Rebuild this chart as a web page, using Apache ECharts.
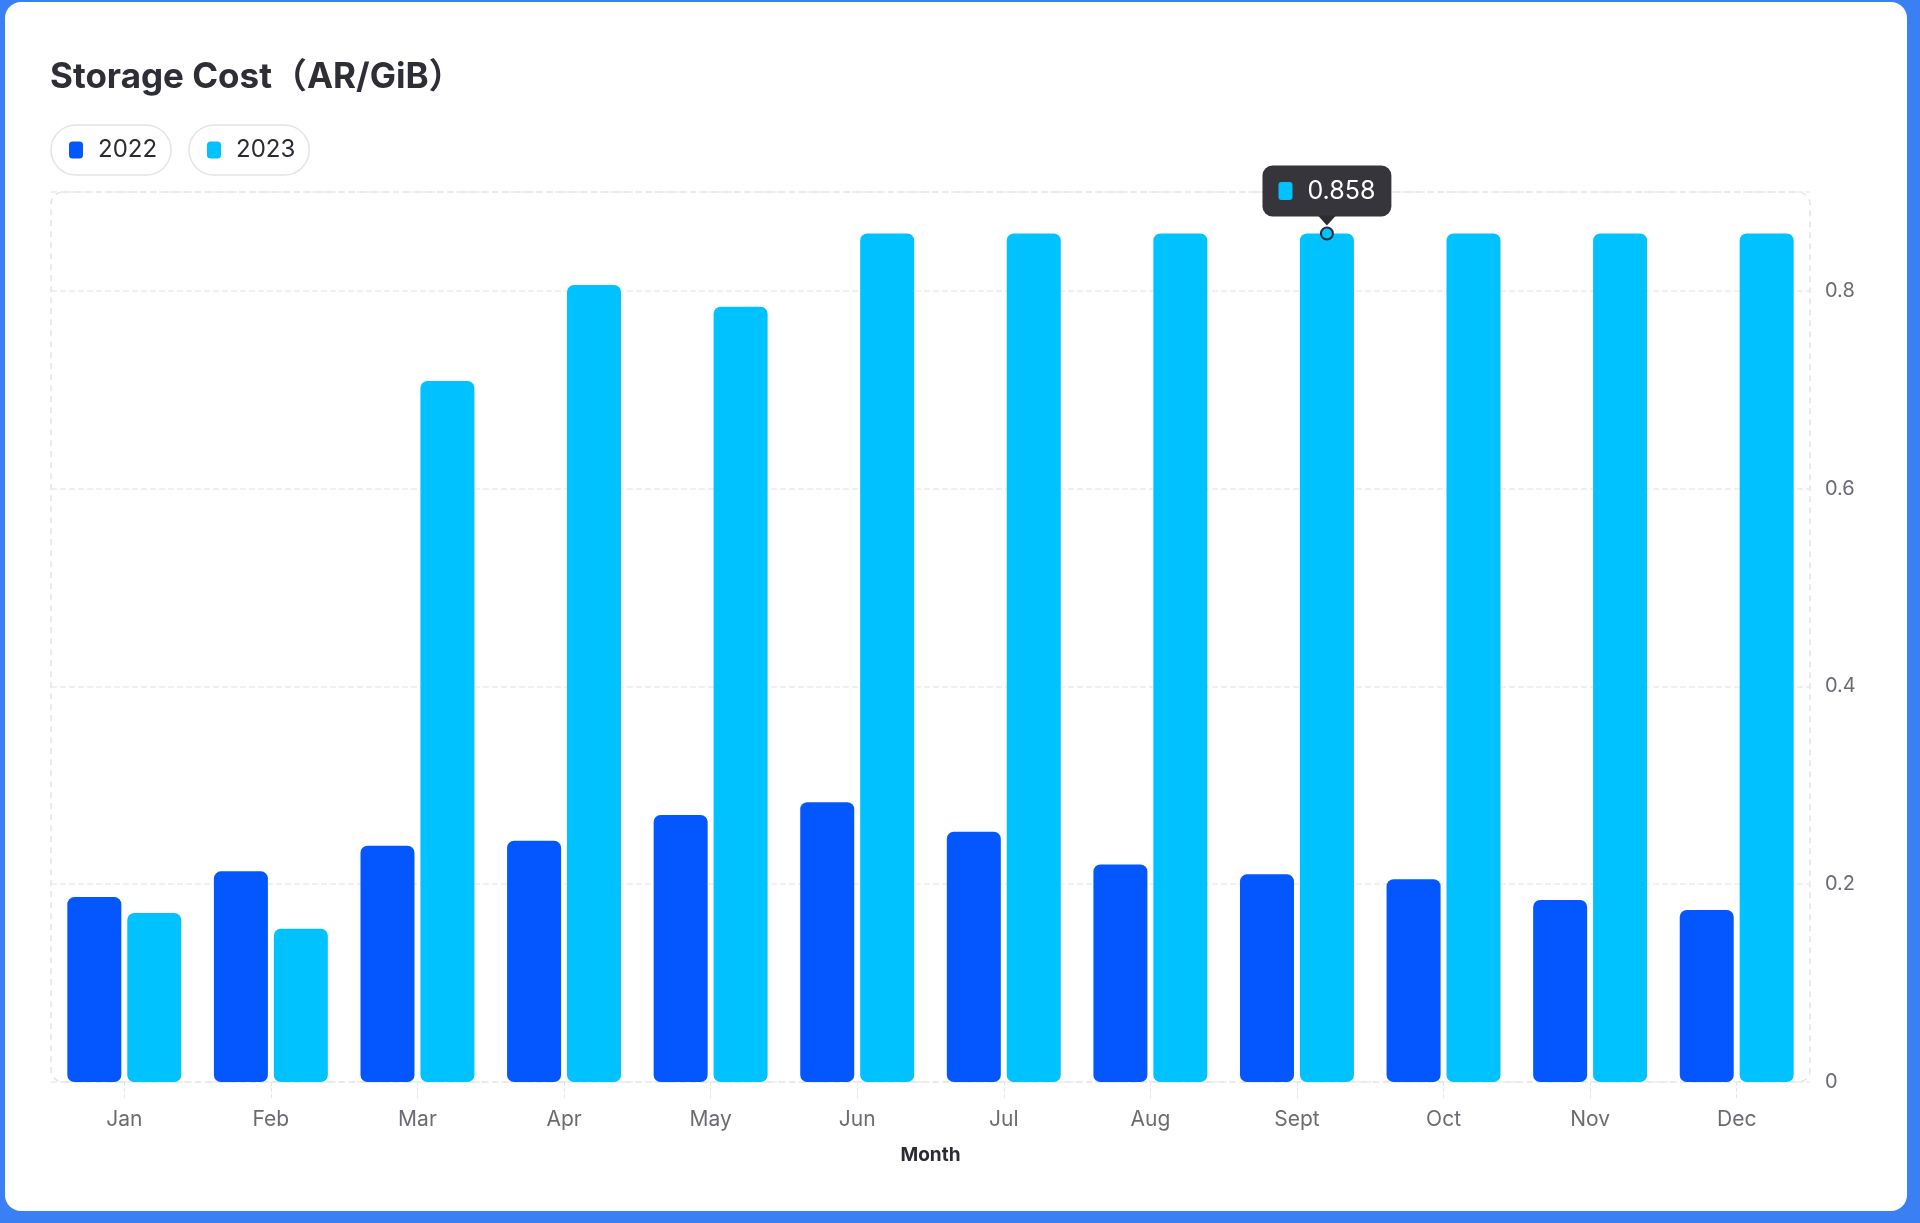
<!DOCTYPE html>
<html>
<head>
<meta charset="utf-8">
<script src="https://cdn.jsdelivr.net/npm/echarts@6/dist/echarts.min.js"></script>
<style>
  html, body { margin: 0; padding: 0; background: #3b7ff5; width: 1920px; height: 1223px; overflow: hidden; }
  #card { position: absolute; left: 5px; top: 2px; width: 1902px; height: 1209px; background: #fff; border-radius: 16px; }
  #chart { position: absolute; left: 0; top: 0; width: 1920px; height: 1223px; }
</style>
</head>
<body>
<div id="card"></div>
<div id="chart"></div>
<script>
const titleText = 'Storage Cost（AR/GiB）';
const months = ['Jan', 'Feb', 'Mar', 'Apr', 'May', 'Jun', 'Jul', 'Aug', 'Sept', 'Oct', 'Nov', 'Dec'];
const seriesNames = ['2022', '2023'];
const values2022 = [0.187, 0.213, 0.239, 0.244, 0.270, 0.283, 0.253, 0.220, 0.210, 0.205, 0.184, 0.174];
const values2023 = [0.171, 0.155, 0.709, 0.806, 0.784, 0.858, 0.858, 0.858, 0.858, 0.858, 0.858, 0.858];
const highlightIndex = 8;
const xAxisName = 'Month';

const FONT = 'Inter, "Noto Sans CJK SC", sans-serif';
const C2022 = '#0457ff';
const C2023 = '#00c2ff';

const chart = echarts.init(document.getElementById('chart'), null, { renderer: 'canvas' });

const grid = { left: 51, top: 192, right: 110, bottom: 141 };

const legendCommon = {
  top: 125,
  padding: [13, 14, 13, 18],
  borderColor: '#e4e4e8',
  borderWidth: 1.5,
  borderRadius: 25,
  itemWidth: 14,
  itemHeight: 17,
  itemGap: 10,
  icon: 'roundRect',
  textStyle: { fontFamily: FONT, fontSize: 24, color: '#2b2b33', padding: [0, 0, 0, 10] },
  selectedMode: false
};

chart.setOption({
  backgroundColor: 'transparent',
  animation: false,
  title: {
    text: titleText,
    left: 45,
    top: 55,
    textStyle: { fontFamily: FONT, fontSize: 35, fontWeight: 'bold', color: '#2e2e36' }
  },
  legend: [
    Object.assign({}, legendCommon, { left: 51, data: [seriesNames[0]] }),
    Object.assign({}, legendCommon, { left: 189, data: [seriesNames[1]] })
  ],
  grid: grid,
  graphic: [{
    type: 'rect',
    shape: { x: 51, y: 192, width: 1759, height: 890, r: 12 },
    style: { fill: 'none', stroke: '#e3e3e6', lineWidth: 1.5, lineDash: [6, 5] },
    z: -1,
    silent: true
  }],
  xAxis: {
    type: 'category',
    data: months,
    name: xAxisName,
    nameLocation: 'middle',
    nameGap: 64,
    nameTextStyle: { fontFamily: FONT, fontSize: 19, fontWeight: 'bold', color: '#2b2b33' },
    axisLine: { show: false },
    axisTick: { show: true, alignWithLabel: true, length: 16, lineStyle: { color: '#e6e6ea', type: 'dashed' } },
    axisLabel: { fontFamily: FONT, fontSize: 21, color: '#6b6b75', margin: 27 }
  },
  yAxis: {
    type: 'value',
    position: 'right',
    min: 0,
    max: 0.9,
    interval: 0.2,
    axisLine: { show: false },
    axisTick: { show: false },
    axisLabel: { fontFamily: FONT, fontSize: 20, color: '#6b6b75', margin: 15, showMaxLabel: false },
    splitLine: { show: true, lineStyle: { color: '#ececf0', type: 'dashed', width: 1.5 } }
  },
  series: [
    {
      name: seriesNames[0],
      type: 'bar',
      data: values2022,
      barWidth: 54,
      barGap: '11%',
      itemStyle: { color: C2022, borderRadius: 7 }
    },
    {
      name: seriesNames[1],
      type: 'bar',
      data: values2023,
      barWidth: 54,
      barGap: '11%',
      itemStyle: { color: C2023, borderRadius: 7 },
      markPoint: {
        silent: true,
        data: [
          {
            coord: [months[highlightIndex], values2023[highlightIndex]],
            symbol: 'triangle',
            symbolRotate: 180,
            symbolSize: [18, 10],
            symbolOffset: [0, -13],
            itemStyle: { color: '#2d2d33' },
            label: { show: false }
          },
          {
            coord: [months[highlightIndex], values2023[highlightIndex]],
            value: values2023[highlightIndex],
            symbol: 'circle',
            symbolSize: 12,
            itemStyle: { color: C2023, borderColor: '#2d2d33', borderWidth: 2 },
            label: {
              show: true,
              position: 'top',
              distance: 10,
              backgroundColor: 'rgba(45,45,51,0.96)',
              borderRadius: 10,
              padding: [13, 16],
              formatter: '{sq|}{v|{c}}',
              rich: {
                sq: { width: 14, height: 18, backgroundColor: C2023, borderRadius: 3 },
                v: { fontFamily: FONT, fontSize: 25, color: '#ffffff', padding: [0, 0, 0, 15] }
              }
            }
          }
        ]
      }
    }
  ]
});
</script>
</body>
</html>
